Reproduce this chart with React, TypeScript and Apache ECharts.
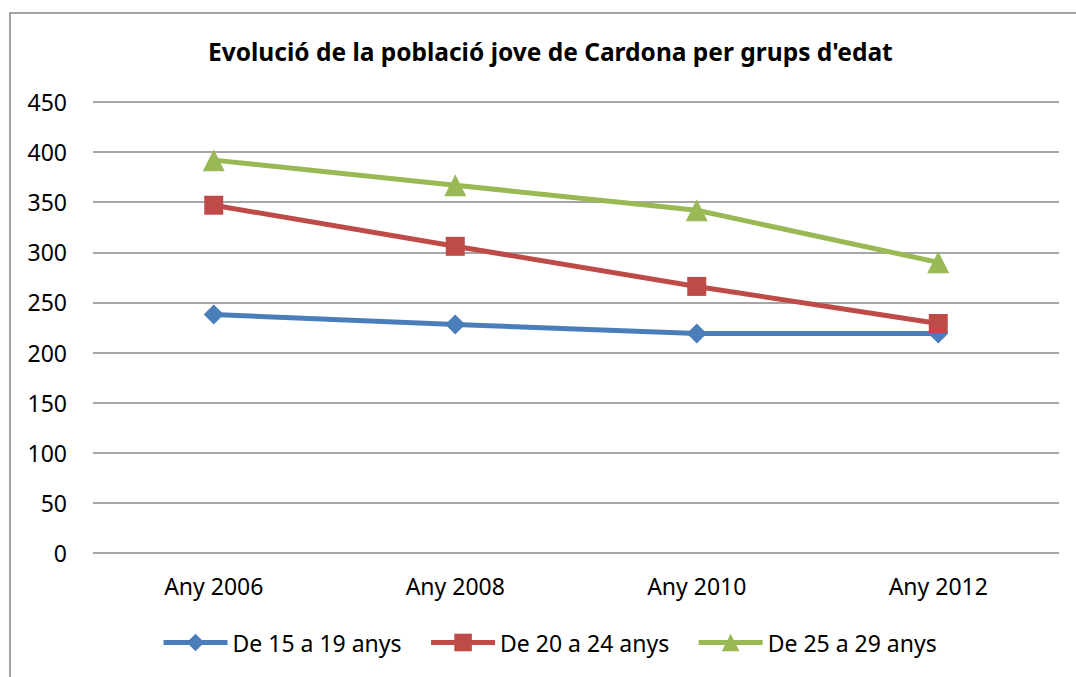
import React, { useEffect, useRef } from "react";
import * as echarts from "echarts";

const categories = ["Any 2006", "Any 2008", "Any 2010", "Any 2012"];
const seriesNames = ["De 15 a 19 anys", "De 20 a 24 anys", "De 25 a 29 anys"];
const s1519 = [238, 228, 219, 219];
const s2024 = [347, 306, 266, 229];
const s2529 = [392, 367, 342, 290];
const colors = ["#4a7ebb", "#be4b48", "#98b954"];
const symbols = ["diamond", "rect", "triangle"];
const symbolSizes = [20, 19, 22];
const title = "Evolució de la població jove de Cardona per grups d'edat";
const FONT = "Noto Sans";

export default function App() {
  const ref = useRef<HTMLDivElement>(null);
  useEffect(() => {
    document.body.style.margin = "0";
    const chart = echarts.init(ref.current!, null, { renderer: "svg" });
    const data = [s1519, s2024, s2529];
    chart.setOption({
      animation: false,
      backgroundColor: "#ffffff",
      textStyle: { fontFamily: FONT },
      title: {
        text: title,
        left: 203,
        top: 34,
        textStyle: { fontFamily: FONT, fontWeight: "bold", fontSize: 24.5, color: "#000" },
      },
      graphic: [
        {
          type: "rect",
          shape: { x: 10, y: 13, width: 1100, height: 700 },
          style: { fill: "none", stroke: "#878787", lineWidth: 1.5 },
          silent: true,
        },
      ],
      grid: { left: 93, right: 17, top: 102, bottom: 124 },
      legend: {
        bottom: 18,
        left: 156,
        itemWidth: 64,
        itemHeight: 22,
        itemGap: 27,
        textStyle: { fontFamily: FONT, fontSize: 23, color: "#000" },
        lineStyle: { width: 5 },
        data: seriesNames,
      },
      xAxis: {
        type: "category",
        data: categories,
        boundaryGap: true,
        axisLine: { show: false },
        axisTick: { show: false },
        axisLabel: { fontFamily: FONT, fontSize: 23, color: "#000", margin: 21 },
      },
      yAxis: {
        type: "value",
        min: 0,
        max: 450,
        interval: 50,
        axisLine: { show: false },
        axisTick: { show: false },
        axisLabel: { fontFamily: FONT, fontSize: 23, color: "#000", margin: 26 },
        splitLine: { lineStyle: { color: "#888888", width: 1.5 } },
      },
      series: seriesNames.map((name, i) => ({
        name,
        type: "line",
        data: data[i],
        symbol: symbols[i],
        symbolSize: symbolSizes[i],
        itemStyle: { color: colors[i] },
        lineStyle: { color: colors[i], width: 5 },
      })),
    });
    return () => chart.dispose();
  }, []);
  return (
    <div
      ref={ref}
      style={{ position: "absolute", left: 0, top: 0, width: 1076, height: 677 }}
    />
  );
}
